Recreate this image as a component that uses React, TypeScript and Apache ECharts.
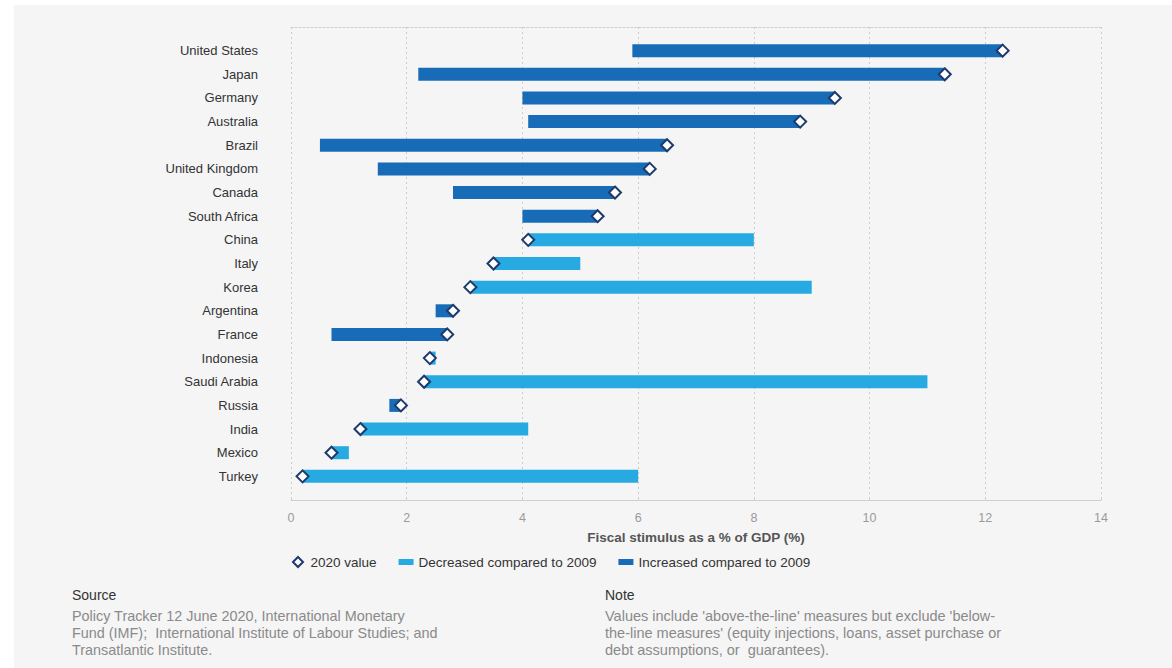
import React, { useEffect, useRef } from "react";
import * as echarts from "echarts";

const countries = [
  "United States", "Japan", "Germany", "Australia", "Brazil", "United Kingdom",
  "Canada", "South Africa", "China", "Italy", "Korea", "Argentina", "France",
  "Indonesia", "Saudi Arabia", "Russia", "India", "Mexico", "Turkey",
];
const value2009 = [5.9, 2.2, 4.0, 4.1, 0.5, 1.5, 2.8, 4.0, 8.0, 5.0, 9.0, 2.5, 0.7, 2.5, 11.0, 1.7, 4.1, 1.0, 6.0];
const value2020 = [12.3, 11.3, 9.4, 8.8, 6.5, 6.2, 5.6, 5.3, 4.1, 3.5, 3.1, 2.8, 2.7, 2.4, 2.3, 1.9, 1.2, 0.7, 0.2];
const xTicks = [0, 2, 4, 6, 8, 10, 12, 14];

const DARK = "#176bb7";
const LIGHT = "#27a9e1";
const FONT = "Liberation Sans, Arial, sans-serif";

export default function App() {
  const ref = useRef<HTMLDivElement>(null);
  useEffect(() => {
    if (!ref.current) return;
    const chart = echarts.init(ref.current, null, { renderer: "svg" });
    const cats = ["", ...countries, ""];
    const inc: any[] = [];
    const dec: any[] = [];
    countries.forEach((c, i) => {
      const item = [value2009[i], value2020[i], c];
      if (value2020[i] >= value2009[i]) inc.push(item);
      else dec.push(item);
    });
    const renderBar = (color: string) => (params: any, api: any) => {
      const s = api.coord([api.value(0), api.value(2)]);
      const e = api.coord([api.value(1), api.value(2)]);
      const h = 13;
      return {
        type: "rect",
        shape: { x: Math.min(s[0], e[0]), y: s[1] - h / 2, width: Math.abs(e[0] - s[0]), height: h },
        style: { fill: color },
      };
    };
    chart.setOption({
      animation: false,
      textStyle: { fontFamily: FONT },
      graphic: [
        { type: "rect", z: -10, shape: { x: 14, y: 5, width: 1172, height: 680 }, style: { fill: "#f5f5f5" } },
        { type: "text", left: 72, top: 588, style: { text: "Source", fill: "#333", font: `14px ${FONT}` } },
        {
          type: "text", left: 72, top: 607,
          style: {
            text: "Policy Tracker 12 June 2020, International Monetary\nFund (IMF);  International Institute of Labour Studies; and\nTransatlantic Institute.",
            fill: "#8a8a8a", font: `14.4px ${FONT}`, lineHeight: 17,
          },
        },
        { type: "text", left: 605, top: 588, style: { text: "Note", fill: "#333", font: `14px ${FONT}` } },
        {
          type: "text", left: 605, top: 607,
          style: {
            text: "Values include 'above-the-line' measures but exclude 'below-\nthe-line measures' (equity injections, loans, asset purchase or\ndebt assumptions, or  guarantees).",
            fill: "#8a8a8a", font: `14.5px ${FONT}`, lineHeight: 17,
          },
        },
      ],
      grid: { left: 291, right: 71, top: 27, bottom: 168 },
      legend: {
        left: 287, top: 550,
        itemGap: 22, itemWidth: 15, itemHeight: 10,
        textStyle: { color: "#333", fontSize: 13.5, fontFamily: FONT },
        data: [
          { name: "2020 value", icon: "path://M5,0L10,5L5,10L0,5Z", itemStyle: { color: "#fff", borderColor: "#1d3a6b", borderWidth: 2 } },
          { name: "Decreased compared to 2009", icon: "path://M0,0H15V6H0Z" },
          { name: "Increased compared to 2009", icon: "path://M0,0H15V6H0Z" },
        ],
      },
      xAxis: [
        {
          type: "value", min: 0, max: 14, interval: 2, position: "bottom",
          axisLine: { show: true, lineStyle: { color: "#cfcfcf" } },
          axisTick: { show: true, inside: true, length: 3, lineStyle: { color: "#cfcfcf" } },
          axisLabel: { color: "#9a9a9a", fontSize: 12.5, margin: 11, formatter: (v: number) => (xTicks.includes(v) ? String(v) : "") },
          splitLine: { show: true, lineStyle: { color: "#cccccc", type: [2, 3] } },
          name: "Fiscal stimulus as a % of GDP (%)",
          nameLocation: "middle", nameGap: 30,
          nameTextStyle: { color: "#555", fontSize: 13.5, fontWeight: "bold", fontFamily: FONT },
        },
        {
          type: "value", min: 0, max: 14, interval: 2, position: "top",
          axisLine: { show: true, lineStyle: { color: "#cccccc", type: [2, 2] } },
          axisTick: { show: false }, axisLabel: { show: false }, splitLine: { show: false },
        },
      ],
      yAxis: {
        type: "category", data: cats, inverse: true, boundaryGap: false,
        axisLine: { show: false }, axisTick: { show: false },
        axisLabel: { color: "#333", fontSize: 13, margin: 33, interval: 0 },
        splitLine: { show: false },
      },
      series: [
        {
          name: "Decreased compared to 2009", type: "custom", xAxisIndex: 0,
          itemStyle: { color: LIGHT }, encode: { x: [0, 1], y: 2 },
          renderItem: renderBar(LIGHT), data: dec, z: 2,
        },
        {
          name: "Increased compared to 2009", type: "custom", xAxisIndex: 0,
          itemStyle: { color: DARK }, encode: { x: [0, 1], y: 2 },
          renderItem: renderBar(DARK), data: inc, z: 2,
        },
        {
          name: "2020 value", type: "scatter", xAxisIndex: 0,
          symbol: "diamond", symbolSize: [12, 12],
          itemStyle: { color: "#fff", borderColor: "#1d3a6b", borderWidth: 2, opacity: 1 },
          data: countries.map((c, i) => [value2020[i], c]),
          z: 5,
        },
      ],
    });
    return () => chart.dispose();
  }, []);
  return <div ref={ref} style={{ position: "absolute", left: 0, top: 0, width: 1172, height: 668 }} />;
}
